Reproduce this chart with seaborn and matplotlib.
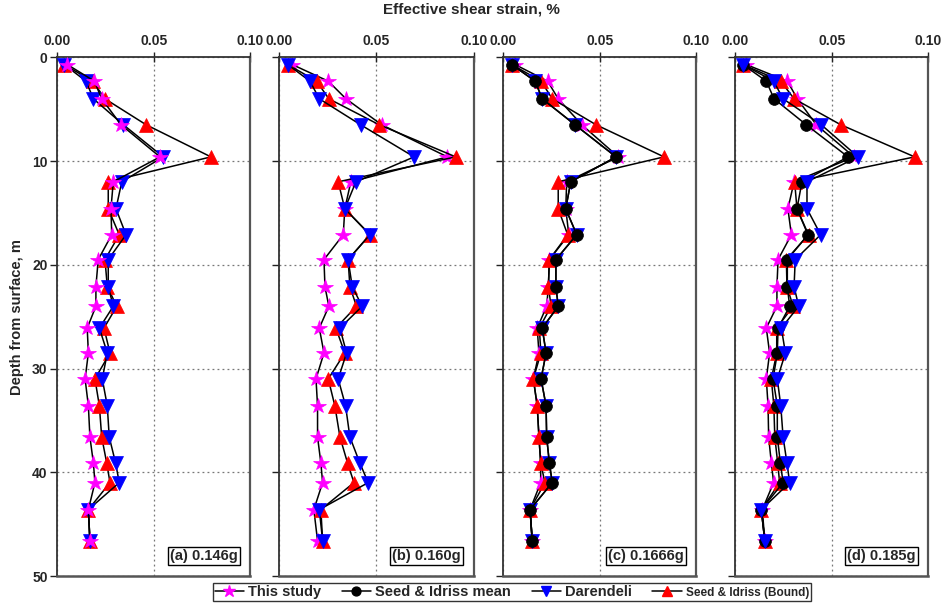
import matplotlib
matplotlib.use("Agg")
import matplotlib.pyplot as plt
import seaborn as sns
import pandas as pd
from matplotlib.lines import Line2D

sns.set_theme(style="white")
plt.rcParams["font.family"] = ["Liberation Sans Narrow", "Liberation Sans", "DejaVu Sans"]
plt.rcParams["font.weight"] = "bold"

depth = [0.7, 2.3, 4.0, 6.5, 9.6, 12.0, 14.6, 17.1, 19.5, 22.1, 24.0, 26.1,
         28.5, 31.0, 33.6, 36.6, 39.1, 41.0, 43.6, 46.6]

series_names = ["This study", "Seed & Idriss mean", "Darendeli", "Seed & Idriss (Bound)"]
panel_labels = ["(a) 0.146g", "(b) 0.160g", "(c) 0.1666g", "(d) 0.185g"]
xtick_labels = ["0.00", "0.05", "0.10"]
ytick_values = [0, 10, 20, 30, 40, 50]

# panel a (Seed & Idriss mean not visible)
star_a = [0.0052, 0.0192, 0.0230, 0.0330, 0.0532, 0.0290, 0.0278, 0.0282, 0.0212, 0.0200,
          0.0200, 0.0155, 0.0161, 0.0144, 0.0161, 0.0169, 0.0187, 0.0195, 0.0161, 0.0169]
blue_a = [0.0036, 0.0149, 0.0187, 0.0342, 0.0549, 0.0334, 0.0304, 0.0356, 0.0264, 0.0264,
          0.0290, 0.0218, 0.0259, 0.0233, 0.0259, 0.0269, 0.0302, 0.0321, 0.0161, 0.0169]
red_a = [0.0035, 0.0183, 0.0247, 0.0460, 0.0796, 0.0264, 0.0264, 0.0321, 0.0247, 0.0259,
         0.0308, 0.0242, 0.0273, 0.0195, 0.0218, 0.0230, 0.0256, 0.0273, 0.0161, 0.0169]

# panel b (Seed & Idriss mean not visible)
star_b = [0.0068, 0.0253, 0.0344, 0.0527, 0.0865, 0.0369, 0.0338, 0.0330, 0.0231, 0.0236,
          0.0256, 0.0207, 0.0231, 0.0190, 0.0198, 0.0198, 0.0215, 0.0224, 0.0179, 0.0198]
blue_b = [0.0045, 0.0159, 0.0207, 0.0419, 0.0694, 0.0395, 0.0338, 0.0467, 0.0355, 0.0376,
          0.0427, 0.0313, 0.0347, 0.0304, 0.0342, 0.0364, 0.0415, 0.0458, 0.0207, 0.0224]
red_b = [0.0045, 0.0193, 0.0256, 0.0514, 0.0908, 0.0304, 0.0338, 0.0467, 0.0355, 0.0364,
         0.0398, 0.0292, 0.0338, 0.0253, 0.0287, 0.0313, 0.0352, 0.0385, 0.0215, 0.0224]

# panel c
star_c = [0.0061, 0.0230, 0.0285, 0.0407, 0.0597, 0.0329, 0.0324, 0.0340, 0.0239, 0.0234,
          0.0225, 0.0176, 0.0185, 0.0156, 0.0176, 0.0185, 0.0194, 0.0194, 0.0139, 0.0150]
black_c = [0.0044, 0.0165, 0.0202, 0.0372, 0.0585, 0.0350, 0.0324, 0.0381, 0.0273, 0.0273,
           0.0285, 0.0202, 0.0222, 0.0196, 0.0222, 0.0225, 0.0239, 0.0254, 0.0139, 0.0150]
blue_c = [0.0044, 0.0165, 0.0202, 0.0372, 0.0585, 0.0350, 0.0324, 0.0381, 0.0273, 0.0273,
          0.0285, 0.0202, 0.0222, 0.0196, 0.0222, 0.0225, 0.0239, 0.0254, 0.0139, 0.0150]
red_c = [0.0044, 0.0196, 0.0254, 0.0481, 0.0834, 0.0285, 0.0285, 0.0334, 0.0239, 0.0234,
         0.0248, 0.0187, 0.0195, 0.0156, 0.0176, 0.0185, 0.0194, 0.0216, 0.0139, 0.0150]

# panel d
star_d = [0.0057, 0.0270, 0.0322, 0.0420, 0.0616, 0.0305, 0.0273, 0.0291, 0.0222, 0.0216,
          0.0216, 0.0161, 0.0178, 0.0161, 0.0170, 0.0173, 0.0187, 0.0199, 0.0140, 0.0153]
black_d = [0.0040, 0.0161, 0.0201, 0.0368, 0.0585, 0.0346, 0.0320, 0.0377, 0.0270, 0.0270,
           0.0282, 0.0222, 0.0218, 0.0196, 0.0218, 0.0218, 0.0234, 0.0248, 0.0135, 0.0153]
blue_d = [0.0040, 0.0199, 0.0248, 0.0446, 0.0637, 0.0372, 0.0372, 0.0443, 0.0311, 0.0305,
          0.0329, 0.0239, 0.0260, 0.0218, 0.0236, 0.0248, 0.0268, 0.0282, 0.0135, 0.0153]
red_d = [0.0040, 0.0236, 0.0305, 0.0547, 0.0931, 0.0308, 0.0320, 0.0380, 0.0265, 0.0268,
         0.0300, 0.0215, 0.0215, 0.0187, 0.0200, 0.0205, 0.0220, 0.0230, 0.0135, 0.0153]

panels = [
    (star_a, None, blue_a, red_a),
    (star_b, None, blue_b, red_b),
    (star_c, black_c, blue_c, red_c),
    (star_d, black_d, blue_d, red_d),
]

styles = [
    dict(marker="*", mfc="#FF00FF", mec="#FF00FF", ms=11.5),
    dict(marker="o", mfc="black", mec="black", ms=8.5),
    dict(marker="v", mfc="#0000FF", mec="#0000FF", ms=10),
    dict(marker="^", mfc="#FF0000", mec="#FF0000", ms=10),
]
# drawing order (z) per panel: star, black, blue, red
zorders = [
    (6, 3, 4, 2),
    (2, 4, 5, 3),
    (2, 5, 4, 3),
    (2, 4, 5, 3),
]

W, H = 943, 604
fig = plt.figure(figsize=(W / 100, H / 100), dpi=100)
lefts = [57.3, 279.0, 503.3, 735.3]
widths = [193.0, 194.7, 192.7, 192.7]
top_px, bot_px = 57.3, 576.0

axes = []
for i, (vals, lab) in enumerate(zip(panels, panel_labels)):
    ax = fig.add_axes([lefts[i] / W, (H - bot_px) / H, widths[i] / W, (bot_px - top_px) / H])
    axes.append(ax)
    for j, (v, st) in enumerate(zip(vals, styles)):
        if v is None:
            continue
        df = pd.DataFrame({"strain": v, "depth": depth})
        sns.lineplot(data=df, x="strain", y="depth", orient="y", sort=False, estimator=None,
                     ax=ax, color="black", linewidth=1.1, marker=st["marker"],
                     markersize=st["ms"], markerfacecolor=st["mfc"],
                     markeredgecolor=st["mec"], markeredgewidth=0.5,
                     zorder=zorders[i][j], clip_on=False)
    ax.set_xlim(0, 0.1)
    ax.set_ylim(50, 0)
    ax.set_xticks([0, 0.05, 0.1])
    ax.set_xticklabels(xtick_labels)
    ax.set_yticks(ytick_values)
    ax.xaxis.tick_top()
    ax.set_xlabel("")
    ax.set_ylabel("")
    ax.grid(True, linestyle=(0, (1.5, 2.5)), color="#777777", linewidth=0.9)
    ax.set_axisbelow(True)
    ax.tick_params(axis="x", top=True, bottom=False, direction="inout", length=7,
                   width=1.0, color="#222222", labelsize=10, pad=3)
    ax.tick_params(axis="y", left=True, direction="out", length=5, width=1.0,
                   color="#222222", labelsize=10, pad=2)
    if i > 0:
        ax.tick_params(axis="y", labelleft=False)
    for t in ax.get_xticklabels() + ax.get_yticklabels():
        t.set_fontweight("bold")
    for s in ax.spines.values():
        s.set_visible(True)
        s.set_color("#333333")
        s.set_linewidth(1.3)
    ax.spines["bottom"].set_color("#555555")
    ax.spines["bottom"].set_linewidth(1.8)
    ax.spines["right"].set_color("#555555")
    ax.spines["right"].set_linewidth(1.6)
    ax.text(0.935, 0.025, lab, transform=ax.transAxes, ha="right", va="bottom",
            fontsize=10.5, fontweight="bold", zorder=10,
            bbox=dict(boxstyle="square,pad=0.15", fc="white", ec="black", lw=1.0))

axes[0].set_ylabel("Depth from surface, m", fontsize=10.5, fontweight="bold", labelpad=6)
fig.text(471 / W, 1 - 10 / H, "Effective shear strain, %", ha="center", va="center",
         fontsize=11, fontweight="bold")

handles = [Line2D([], [], color="black", lw=1.1, marker=st["marker"], markersize=st["ms"] * 0.75,
                  markerfacecolor=st["mfc"], markeredgecolor=st["mec"]) for st in styles]
leg = fig.legend(handles, series_names, loc="center", bbox_to_anchor=(512 / W, 1 - 592 / H),
                 ncol=4, frameon=True, fancybox=False, fontsize=10.5, handlelength=2.0,
                 handletextpad=0.3, columnspacing=1.4, borderpad=0.15, borderaxespad=0)
leg.get_frame().set_edgecolor("black")
leg.get_frame().set_linewidth(1.0)
for t in leg.get_texts():
    t.set_fontweight("bold")
leg.get_texts()[-1].set_fontsize(8.5)

fig.savefig("out.png", dpi=100)
